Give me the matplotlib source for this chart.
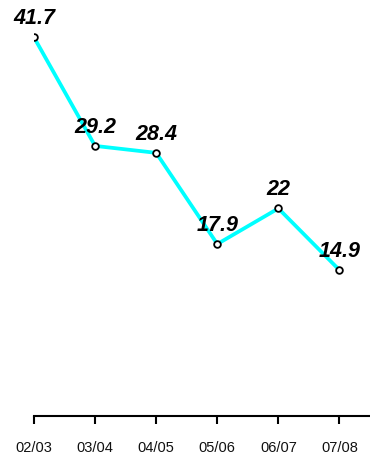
import matplotlib
matplotlib.use("Agg")
import matplotlib.pyplot as plt

# data
seasons = ['02/03', '03/04', '04/05', '05/06', '06/07', '07/08']
values = [41.7, 29.2, 28.4, 17.9, 22, 14.9]
labels = ['41.7', '29.2', '28.4', '17.9', '22', '14.9']

plt.rcParams['font.family'] = ['Liberation Sans', 'DejaVu Sans']

fig = plt.figure(figsize=(3.7, 4.55), dpi=100)
ax = fig.add_axes([34 / 370, 39 / 455, 1 - 34 / 370, 1 - 39 / 455])

x = list(range(len(seasons)))
ax.plot(x, values, color='#00FFFF', linewidth=2.7, zorder=2)
ax.plot(x, values, linestyle='none', marker='o', markersize=4.8,
        markerfacecolor='white', markeredgecolor='black', markeredgewidth=1.3, zorder=3)

for xi, yi, lab in zip(x, values, labels):
    ax.annotate(lab, (xi, yi), xytext=(0, 6), textcoords='offset points',
                ha='center', va='bottom', fontsize=15.5, fontweight='bold',
                fontstyle='italic', color='black')

ax.set_xlim(0, 5.5)
ax.set_ylim(-1.9, 46.0)
ax.set_xticks(x)
ax.set_xticklabels(seasons, fontsize=10.5, color='#111111')
ax.set_yticks([])
for s in ['left', 'right', 'top']:
    ax.spines[s].set_visible(False)
ax.spines['bottom'].set_linewidth(1.5)
ax.tick_params(axis='x', length=6, width=1.5, pad=12)
ax.patch.set_alpha(0)

fig.savefig('out.png', dpi=100)
